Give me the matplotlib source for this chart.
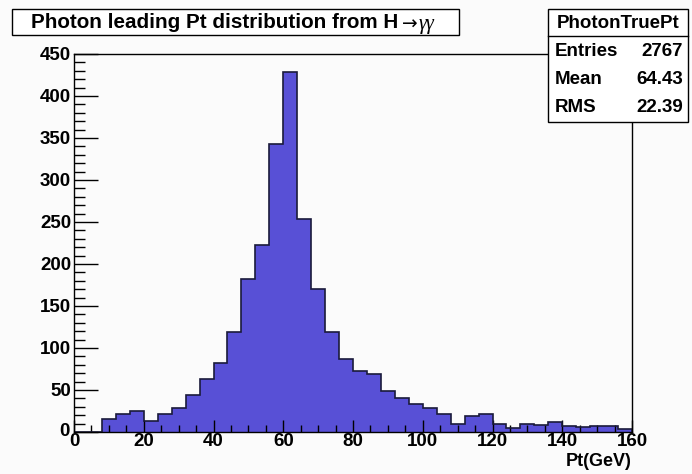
import numpy as np
import matplotlib
matplotlib.use("Agg")
import matplotlib.pyplot as plt
from matplotlib.patches import Rectangle
from matplotlib.text import Annotation
from matplotlib.ticker import MultipleLocator
from matplotlib.transforms import ScaledTranslation

# Histogram data: 4 GeV bins from 0 to 160
bin_edges = list(range(0, 164, 4))
counts = [0, 0, 15, 22, 25, 13, 21, 29, 44, 63,
          82, 119, 182, 223, 343, 429, 253, 170, 119, 87,
          73, 69, 49, 41, 33, 29, 22, 9, 19, 21,
          10, 5, 10, 8, 12, 7, 6, 7, 7, 4]
x_ticks = [0, 20, 40, 60, 80, 100, 120, 140, 160]
y_ticks = [0, 50, 100, 150, 200, 250, 300, 350, 400, 450]
title_main = "Photon leading Pt distribution from H"
title_arrow = r"$\rightarrow$"
title_gammas = "\u03b3\u03b3"
stats_name = "PhotonTruePt"
stats_rows = [("Entries", "2767"), ("Mean", "64.43"), ("RMS", "22.39")]
xlabel = "Pt(GeV)"

FONT = ["Liberation Sans", "DejaVu Sans"]
plt.rcParams["font.family"] = FONT

W, H = 692, 474
fig = plt.figure(figsize=(W / 100, H / 100), dpi=100)
fig.patch.set_facecolor("#fbfbfb")

def fx(px):
    return px / W

def fy(py):
    return 1 - py / H

ax = fig.add_axes([fx(74), fy(432), fx(632) - fx(74), fy(54) - fy(432)])
ax.set_facecolor("#fbfbfb")
ax.stairs(counts, bin_edges, fill=True, facecolor="#5850d6", edgecolor="none", zorder=1)
ax.stairs(counts, bin_edges, fill=False, edgecolor="#1a1a3a", linewidth=1.2, zorder=2)
ax.set_xlim(0, 160)
ax.set_ylim(0, 450)

for s in ax.spines.values():
    s.set_linewidth(1.0)
    s.set_color("black")
    s.set_zorder(3)

ax.xaxis.set_major_locator(MultipleLocator(20))
ax.xaxis.set_minor_locator(MultipleLocator(5))
ax.yaxis.set_major_locator(MultipleLocator(50))
ax.yaxis.set_minor_locator(MultipleLocator(10))
ax.set_xticks(x_ticks)
ax.set_yticks(y_ticks)
ax.tick_params(axis="x", which="major", direction="in", length=9, width=1, top=False,
               labelsize=13.5, pad=1)
ax.tick_params(axis="x", which="minor", direction="in", length=5, width=1, top=False)
ax.tick_params(axis="y", which="major", direction="in", length=17, width=1, right=False,
               labelsize=13.5, pad=2)
ax.tick_params(axis="y", which="minor", direction="in", length=8, width=1, right=False)
for lab in ax.get_xticklabels() + ax.get_yticklabels():
    lab.set_fontweight("bold")
for t in ax.xaxis.get_major_ticks() + ax.xaxis.get_minor_ticks() + ax.yaxis.get_major_ticks() + ax.yaxis.get_minor_ticks():
    t.tick1line.set_zorder(4)
# nudge the y "0" label slightly so it does not sit on the x "0" label
ylab0 = ax.get_yticklabels()[0]
ylab0.set_transform(ylab0.get_transform() + ScaledTranslation(-2 / 100, 3 / 100, fig.dpi_scale_trans))

fig.text(fx(632), fy(462), xlabel, ha="right", va="center", fontsize=13,
         fontweight="bold")

# Title box
fig.patches.append(Rectangle((fx(12), fy(35)), fx(459) - fx(12), fy(9) - fy(35),
                             transform=fig.transFigure, facecolor="white",
                             edgecolor="black", linewidth=1.0))
t1 = fig.text(fx(31), fy(22), title_main, ha="left", va="center", fontsize=14.9,
              fontweight="bold", zorder=3)
arrow = Annotation(title_arrow, xy=(1, 0.5), xycoords=t1, xytext=(0, -1),
                   textcoords="offset points", ha="left", va="center", fontsize=13.5,
                   zorder=3)
fig.add_artist(arrow)
gam = Annotation(title_gammas, xy=(1, 0.5), xycoords=arrow, xytext=(0, -0.5),
                 textcoords="offset points", ha="left", va="center", fontsize=14.5,
                 family=["Liberation Serif", "DejaVu Serif"], style="italic", zorder=3)
fig.add_artist(gam)

# Stats box
bx0, bx1, by0, by1 = 548, 688, 9, 122
fig.patches.append(Rectangle((fx(bx0), fy(by1)), fx(bx1) - fx(bx0), fy(by0) - fy(by1),
                             transform=fig.transFigure, facecolor="white",
                             edgecolor="black", linewidth=1.0, zorder=5))
fig.add_artist(plt.Line2D([fx(bx0), fx(bx1)], [fy(36), fy(36)], transform=fig.transFigure,
                          color="black", linewidth=1.0, zorder=6))
fig.text(fx((bx0 + bx1) / 2), fy(23), stats_name, ha="center", va="center",
         fontsize=13.5, fontweight="bold", zorder=7)
row_y = [52, 80, 108]
for (k, v), yy in zip(stats_rows, row_y):
    fig.text(fx(555), fy(yy), k, ha="left", va="center", fontsize=13.5,
             fontweight="bold", zorder=7)
    fig.text(fx(683), fy(yy), v, ha="right", va="center", fontsize=13.5,
             fontweight="bold", zorder=7)

fig.savefig("out.png", dpi=100, facecolor=fig.get_facecolor())
